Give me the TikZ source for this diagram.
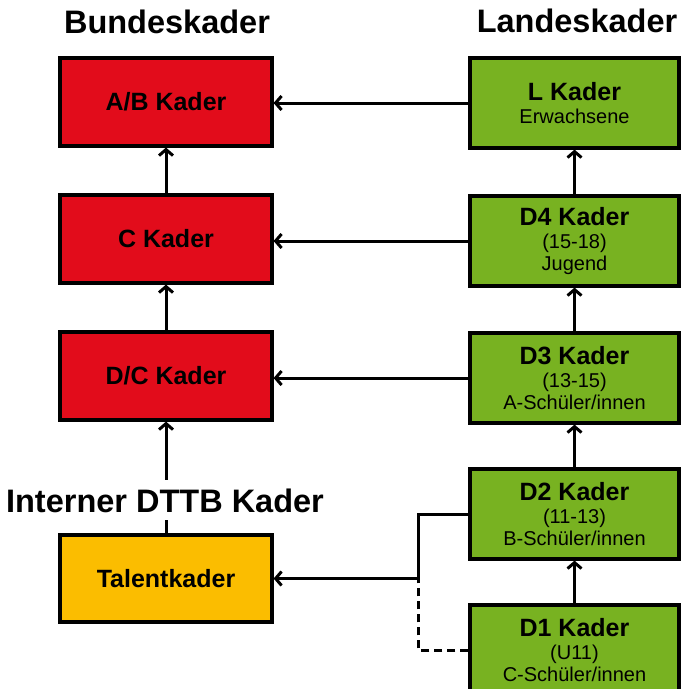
\documentclass[tikz,border=0pt]{standalone}
\usepackage{fontspec}
\setmainfont{Liberation Sans}
\usetikzlibrary{arrows.meta}
\definecolor{kred}{RGB}{226,12,27}
\definecolor{kgreen}{RGB}{120,178,33}
\definecolor{kyellow}{RGB}{251,189,0}
\tikzset{
  kbox/.style={draw=black, line width=3.2pt, minimum height=88pt, inner sep=0pt, align=center,
    font=\fontsize{20}{22}\selectfont},
  bund/.style={kbox, fill=kred, minimum width=212pt},
  land/.style={kbox, fill=kgreen, minimum width=209pt, minimum height=90pt},
  talent/.style={kbox, fill=kyellow, minimum width=212pt, minimum height=87pt},
  head/.style={font=\fontsize{32.5}{36}\selectfont\bfseries, inner sep=0pt, anchor=base},
  conn/.style={line width=3pt, draw=black},
  arr/.style={conn, -{Straight Barb[length=6pt,width=14pt,line width=3pt]}},
}
\newcommand{\ktitle}[1]{{\fontsize{25}{27}\selectfont\bfseries #1}}
\begin{document}
\begin{tikzpicture}[x=1pt,y=-1pt]
\useasboundingbox (0,0) rectangle (681,689);
% headings
\node[head] (hb) at (167,33) {Bundeskader};
\node[head] (hl) at (577,32) {Landeskader};
% left column
\node[bund] (ab) at (166,102) {\ktitle{A/B Kader}};
\node[bund] (c) at (166,239) {\ktitle{C Kader}};
\node[bund] (dc) at (166,376) {\ktitle{D/C Kader}};
\node[talent] (tal) at (166,578.5) {\ktitle{Talentkader}};
% right column
\node[land] (l) at (574.5,103) {\ktitle{L Kader}\\[1pt]Erwachsene};
\node[land] (d4) at (574.5,241) {\ktitle{D4 Kader}\\[1pt](15-18)\\Jugend};
\node[land] (d3) at (574.5,378) {\ktitle{D3 Kader}\\[1pt](13-15)\\A-Schüler/innen};
\node[land] (d2) at (574.5,514) {\ktitle{D2 Kader}\\[1pt](11-13)\\B-Schüler/innen};
\node[land] (d1) at (574.5,650) {\ktitle{D1 Kader}\\[1pt](U11)\\C-Schüler/innen};
% connectors
\draw[arr] (l.west) -- (l.west -| ab.east);
\draw[arr] (d4.west) -- (d4.west -| c.east);
\draw[arr] (d3.west) -- (d3.west -| dc.east);
\draw[arr] (c) -- (ab);
\draw[arr] (dc) -- (c);
\draw[arr] (tal) -- (dc);
\draw[arr] (d4) -- (l);
\draw[arr] (d3) -- (d4);
\draw[arr] (d2) -- (d3);
\draw[arr] (d1) -- (d2);
\coordinate (j) at (418,578.5);
\draw[conn] (d2.west) -| (j);
\draw[arr] (j) -- (tal.east);
\draw[conn, dash pattern=on 8pt off 5pt] (d1.west) -| (j);
% heading over the line
\node[head, fill=white, inner xsep=4pt, inner ysep=8pt] (hi) at (165,512) {Interner DTTB Kader};
\end{tikzpicture}
\end{document}
